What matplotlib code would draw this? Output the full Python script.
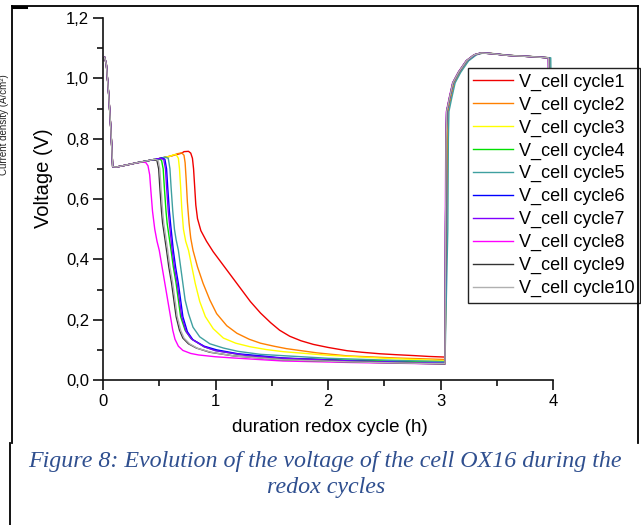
import matplotlib
matplotlib.use("Agg")
import matplotlib.pyplot as plt
from matplotlib.lines import Line2D
from matplotlib.ticker import MultipleLocator, FuncFormatter

# ---------------- data ----------------
labels = ["V_cell cycle1", "V_cell cycle2", "V_cell cycle3", "V_cell cycle4",
          "V_cell cycle5", "V_cell cycle6", "V_cell cycle7", "V_cell cycle8",
          "V_cell cycle9", "V_cell cycle10"]
colors = ["#F00000", "#FF8000", "#FFFF00", "#00E000", "#3FA0A0",
          "#0000FF", "#8000FF", "#FF00FF", "#333333", "#B0B0B0"]

# common start (initial drop)
start_t = [0.0, 0.015, 0.03, 0.05, 0.07, 0.082, 0.086]
start_v = [1.06, 1.07, 1.045, 0.95, 0.83, 0.74, 0.707]

# common plateau
plateau_t = [0.086, 0.12, 0.2, 0.3, 0.4, 0.5, 0.6, 0.7]
plateau_v = [0.707, 0.706, 0.712, 0.72, 0.727, 0.734, 0.742, 0.752]

# discharge of each cycle (after the plateau)
c1_t = [0.72, 0.76, 0.78, 0.795, 0.805, 0.815, 0.825, 0.84, 0.87, 0.92, 0.98, 1.05, 1.13, 1.22,
        1.31, 1.40, 1.49, 1.57, 1.66, 1.76, 1.87, 2.0, 2.17, 2.3, 2.46, 2.6, 2.76, 2.9, 3.04]
c1_v = [0.757, 0.758, 0.752, 0.735, 0.70, 0.64, 0.58, 0.535, 0.495, 0.46, 0.425, 0.39, 0.35, 0.305,
        0.26, 0.222, 0.19, 0.165, 0.145, 0.13, 0.118, 0.108, 0.097, 0.092, 0.087, 0.084, 0.081, 0.078, 0.076]
c2_t = [0.66, 0.70, 0.72, 0.73, 0.74, 0.75, 0.765, 0.78, 0.80, 0.84, 0.89, 0.95, 1.01, 1.10,
        1.19, 1.30, 1.40, 1.52, 1.63, 1.9, 2.17, 2.6, 3.04]
c2_v = [0.75, 0.753, 0.745, 0.72, 0.66, 0.59, 0.52, 0.47, 0.43, 0.375, 0.32, 0.265, 0.22, 0.18,
        0.155, 0.135, 0.122, 0.112, 0.104, 0.09, 0.080, 0.073, 0.068]
c3_t = [0.62, 0.65, 0.67, 0.68, 0.69, 0.70, 0.715, 0.735, 0.76, 0.79, 0.82, 0.86, 0.91, 0.98,
        1.07, 1.18, 1.31, 1.45, 1.6, 2.0, 2.5, 3.04]
c3_v = [0.746, 0.747, 0.735, 0.70, 0.64, 0.57, 0.50, 0.46, 0.43, 0.375, 0.32, 0.26, 0.21, 0.17,
        0.139, 0.122, 0.11, 0.101, 0.094, 0.082, 0.072, 0.064]
c4_t = [0.49, 0.52, 0.535, 0.545, 0.56, 0.57, 0.605, 0.625, 0.65, 0.67, 0.69, 0.73, 0.78, 0.9,
        1.0, 1.2, 1.6, 2.2, 2.7, 3.04]
c4_v = [0.733, 0.729, 0.70, 0.64, 0.56, 0.52, 0.43, 0.375, 0.32, 0.265, 0.21, 0.165, 0.138, 0.11,
        0.098, 0.085, 0.072, 0.066, 0.062, 0.060]
c5_t = [0.55, 0.58, 0.595, 0.605, 0.62, 0.635, 0.65, 0.67, 0.69, 0.71, 0.73, 0.76, 0.80, 0.86,
        0.95, 1.07, 1.2, 1.4, 2.0, 2.6, 3.04]
c5_v = [0.739, 0.735, 0.70, 0.64, 0.56, 0.50, 0.465, 0.43, 0.375, 0.32, 0.265, 0.22, 0.175, 0.143,
        0.12, 0.106, 0.095, 0.085, 0.072, 0.065, 0.061]
c6_t = [0.52, 0.55, 0.565, 0.575, 0.59, 0.60, 0.625, 0.645, 0.67, 0.69, 0.71, 0.75, 0.80, 0.9,
        1.01, 1.2, 1.6, 2.2, 2.7, 3.04]
c6_v = [0.736, 0.732, 0.70, 0.64, 0.56, 0.52, 0.43, 0.375, 0.32, 0.265, 0.21, 0.16, 0.133, 0.112,
        0.10, 0.087, 0.073, 0.063, 0.058, 0.055]
c7_t = [0.51, 0.54, 0.555, 0.565, 0.58, 0.59, 0.615, 0.635, 0.66, 0.68, 0.70, 0.74, 0.79, 0.9,
        1.0, 1.3, 1.6, 2.2, 2.7, 3.04]
c7_v = [0.735, 0.731, 0.70, 0.64, 0.56, 0.52, 0.43, 0.375, 0.32, 0.265, 0.21, 0.16, 0.135, 0.11,
        0.097, 0.08, 0.072, 0.063, 0.058, 0.055]
c8_t = [0.35, 0.38, 0.40, 0.415, 0.425, 0.44, 0.46, 0.48, 0.50, 0.525, 0.55, 0.575, 0.60, 0.62,
        0.64, 0.67, 0.71, 0.78, 0.85, 1.0, 1.16, 1.6, 2.2, 2.7, 3.04]
c8_v = [0.722, 0.721, 0.71, 0.68, 0.63, 0.56, 0.50, 0.46, 0.43, 0.375, 0.32, 0.265, 0.21, 0.165,
        0.135, 0.112, 0.098, 0.088, 0.083, 0.077, 0.073, 0.063, 0.058, 0.055, 0.053]
c9_t = [0.45, 0.48, 0.495, 0.505, 0.52, 0.53, 0.565, 0.585, 0.61, 0.63, 0.65, 0.68, 0.71, 0.76,
        0.83, 0.95, 1.16, 1.6, 2.2, 2.7, 3.04]
c9_v = [0.731, 0.727, 0.70, 0.64, 0.56, 0.52, 0.43, 0.375, 0.32, 0.265, 0.21, 0.165, 0.139, 0.12,
        0.106, 0.092, 0.08, 0.067, 0.06, 0.056, 0.053]
c10_t = [0.46, 0.49, 0.505, 0.515, 0.53, 0.54, 0.575, 0.595, 0.62, 0.64, 0.66, 0.69, 0.72, 0.77,
         0.84, 0.96, 1.16, 1.6, 2.2, 2.7, 3.04]
c10_v = [0.732, 0.728, 0.70, 0.64, 0.56, 0.52, 0.43, 0.375, 0.32, 0.265, 0.21, 0.165, 0.139, 0.12,
         0.105, 0.092, 0.08, 0.067, 0.06, 0.056, 0.054]

disch_t = [c1_t, c2_t, c3_t, c4_t, c5_t, c6_t, c7_t, c8_t, c9_t, c10_t]
disch_v = [c1_v, c2_v, c3_v, c4_v, c5_v, c6_v, c7_v, c8_v, c9_v, c10_v]

# common recharge (after about 3.05 h)
charge_t = [3.045, 3.05, 3.055, 3.08, 3.11, 3.16, 3.23, 3.30, 3.36, 3.45, 3.60, 3.80, 3.96, 3.965]
charge_v = [0.50, 0.80, 0.89, 0.935, 0.985, 1.02, 1.058, 1.078, 1.084, 1.082, 1.076, 1.072, 1.068, 0.90]
charge_shift = [0.01, 0.008, 0.004, 0.0, 0.02, 0.0, 0.002, -0.003, 0.0, 0.0]

x_ticks = [0, 1, 2, 3, 4]
y_ticks = [0.0, 0.2, 0.4, 0.6, 0.8, 1.0, 1.2]

# ---------------- figure ----------------
W, H = 641, 525
fig = plt.figure(figsize=(W / 100, H / 100), dpi=100)
fig.patch.set_facecolor("white")

def fx(px):
    return px / W

def fy(py):
    return 1 - py / H

ax = fig.add_axes([fx(103), fy(380), fx(553) - fx(103), fy(18) - fy(380)])
sans = "Liberation Sans"

for i in range(len(labels)):
    knee = disch_t[i][0]
    pt = [t for t in plateau_t if t < knee]
    pv = [v for t, v in zip(plateau_t, plateau_v) if t < knee]
    ct = [t + charge_shift[i] for t in charge_t]
    t_all = start_t + pt + disch_t[i] + ct
    v_all = start_v + pv + disch_v[i] + charge_v
    ax.plot(t_all, v_all, color=colors[i], lw=1.0, label=labels[i])

ax.set_xlim(0, 4)
ax.set_ylim(0, 1.2)
ax.set_xticks(x_ticks)
ax.set_yticks(y_ticks)
ax.xaxis.set_minor_locator(MultipleLocator(0.5))
ax.yaxis.set_minor_locator(MultipleLocator(0.1))
ax.yaxis.set_major_formatter(FuncFormatter(lambda v, p: f"{v:.1f}".replace(".", ",")))
ax.xaxis.set_major_formatter(FuncFormatter(lambda v, p: f"{v:g}"))

for s in ["top", "right"]:
    ax.spines[s].set_visible(False)
for s in ["left", "bottom"]:
    ax.spines[s].set_linewidth(1.2)
    ax.spines[s].set_color("#111111")
ax.tick_params(which="major", direction="out", length=7, width=1.2, color="#111111",
               labelsize=12, pad=3)
ax.tick_params(which="minor", direction="out", length=4, width=1.2, color="#111111")
for lab in ax.get_xticklabels() + ax.get_yticklabels():
    lab.set_fontfamily(sans)

ax.set_ylabel("Voltage (V)", fontsize=14.5, fontfamily=sans, va="center")
ax.yaxis.set_label_coords((43 - 103) / 450, (380 - 178) / 362)
ax.set_xlabel("duration redox cycle (h)", fontsize=13.5, fontfamily=sans, va="center")
ax.xaxis.set_label_coords((330 - 103) / 450, (380 - 428) / 362)

leg = ax.legend(loc="upper left", bbox_to_anchor=((468 - 103) / 450, (380 - 68) / 362),
                borderaxespad=0, frameon=True, fancybox=False, framealpha=1,
                edgecolor="#222222", prop={"family": sans, "size": 13},
                handlelength=2.2, handletextpad=0.3, labelspacing=0.32, borderpad=0.3)
leg.get_frame().set_linewidth(1.0)

# caption
cap_color = "#2F4F8F"
fig.text(fx(325), fy(462), "Figure 8: Evolution of the voltage of the cell OX16 during the",
         ha="center", va="center", fontsize=17.3, fontstyle="italic",
         fontfamily="Liberation Serif", color=cap_color)
fig.text(fx(326), fy(487), "redox cycles", ha="center", va="center", fontsize=17.3,
         fontstyle="italic", fontfamily="Liberation Serif", color=cap_color)

# clipped label of the neighbouring plot
fig.text(fx(4), fy(125), "Current density (A/cm²)", rotation=90, ha="center", va="center",
         fontsize=7, fontfamily=sans, color="#222222")

# page borders
border = dict(color="black", lw=1.3, transform=fig.transFigure)
fig.add_artist(Line2D([fx(12), fx(638)], [fy(6), fy(6)], **border))
fig.add_artist(Line2D([fx(12), fx(12)], [fy(6), fy(443)], **border))
fig.add_artist(Line2D([fx(10), fx(10)], [fy(443), fy(525)], **border))
fig.add_artist(Line2D([fx(638), fx(638)], [fy(6), fy(443)], **border))
fig.add_artist(Line2D([fx(13), fx(26)], [fy(7), fy(7)], color="black", lw=2.2,
                      transform=fig.transFigure))

fig.savefig("out.png", dpi=100)
